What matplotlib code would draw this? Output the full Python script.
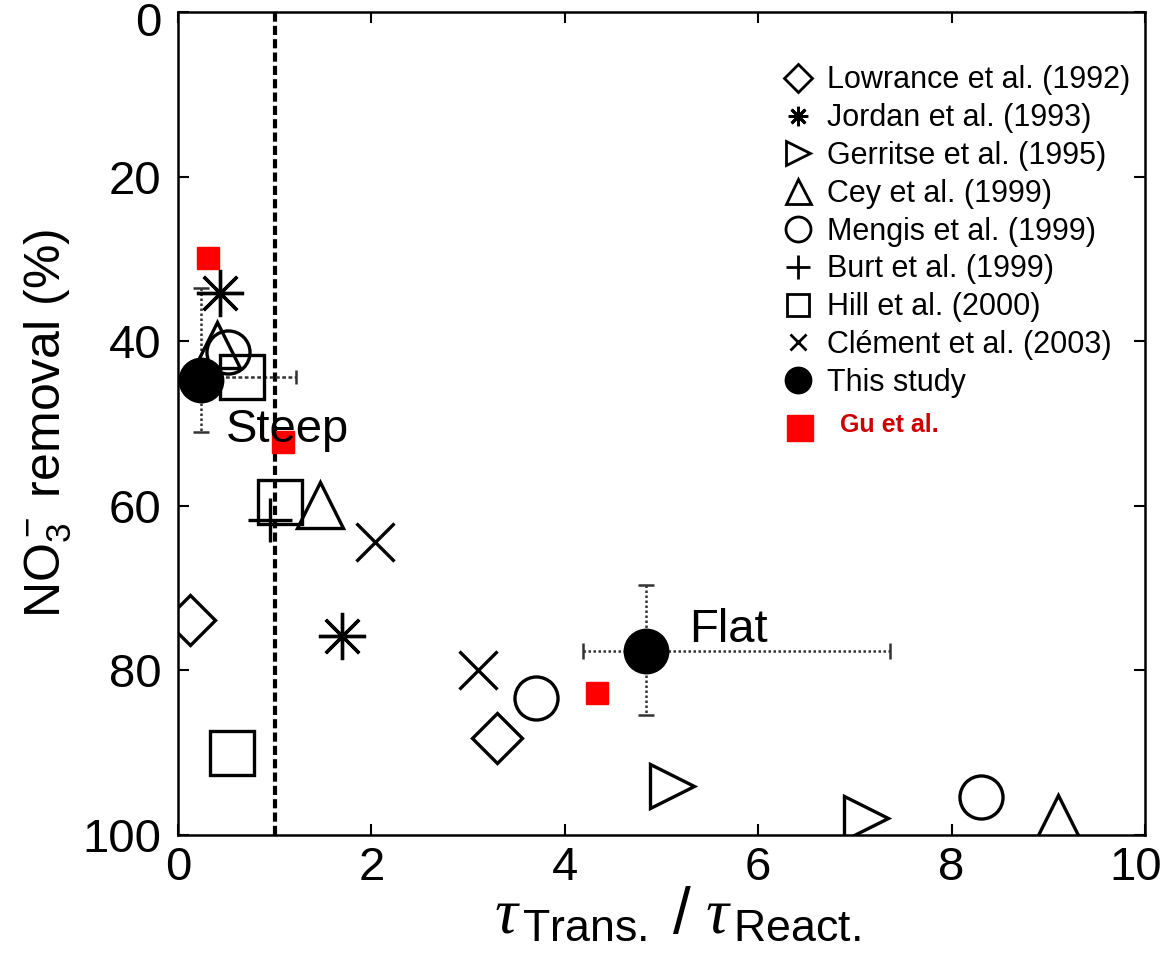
import matplotlib
matplotlib.use('Agg')
import matplotlib.pyplot as plt
from matplotlib.lines import Line2D
from matplotlib.transforms import ScaledTranslation

plt.rcParams['font.family'] = ['Liberation Sans', 'DejaVu Sans']
plt.rcParams['mathtext.fontset'] = 'custom'
plt.rcParams['mathtext.rm'] = 'Liberation Sans'
plt.rcParams['mathtext.it'] = 'Liberation Serif:italic'
plt.rcParams['mathtext.bf'] = 'Liberation Sans:bold'

# ---------------- data ----------------
lowrance_x = [0.12, 3.30]
lowrance_y = [73.9, 88.2]
jordan_x = [0.43, 1.70]
jordan_y = [34.1, 75.8]
gerritse_x = [5.11, 7.11]
gerritse_y = [94.0, 97.9]
cey_x = [0.40, 1.47, 9.10]
cey_y = [40.5, 59.9, 97.9]
mengis_x = [0.52, 3.70, 8.30]
mengis_y = [41.3, 83.4, 95.4]
burt_x = [0.95]
burt_y = [61.7]
hill_x = [0.66, 1.05, 0.56]
hill_y = [44.3, 59.5, 90.0]
hill_xerr_lo = [0.30]
hill_xerr_hi = [0.56]
clement_x = [2.04, 3.10]
clement_y = [64.4, 80.0]
study_x = [0.24, 4.84]
study_y = [44.7, 77.6]
study_xerr_lo = [0.19, 0.65]
study_xerr_hi = [0.20, 2.52]
study_yerr_lo = [11.2, 8.0]
study_yerr_hi = [6.3, 7.8]
gu_x = [0.31, 1.09, 4.33]
gu_y = [29.9, 52.2, 82.7]

legend_labels = ['Lowrance et al. (1992)', 'Jordan et al. (1993)', 'Gerritse et al. (1995)',
                 'Cey et al. (1999)', 'Mengis et al. (1999)', 'Burt et al. (1999)',
                 'Hill et al. (2000)', 'Clément et al. (2003)', 'This study']
gu_label = 'Gu et al.'
x_ticks = [0, 2, 4, 6, 8, 10]
y_ticks = [0, 20, 40, 60, 80, 100]

# ---------------- figure ----------------
fig = plt.figure(figsize=(11.65, 9.57), dpi=100)
ax = fig.add_axes([0.1528, 0.1275, 0.83, 0.86])

mew = 2.4
hollow = dict(mfc='none', mec='k', mew=mew, ls='none', color='k')

ax.axvline(1.0, color='k', lw=3, ls=(0, (2.2, 1.0)), zorder=1)

# error bars
eb = ax.errorbar([hill_x[0]], [hill_y[0]], xerr=[hill_xerr_lo, hill_xerr_hi], fmt='none',
                 ecolor='#333333', elinewidth=1.8, capsize=5, capthick=1.8, zorder=2)
for c in eb[2]:
    c.set_linestyle((0, (1.5, 1.0)))
eb = ax.errorbar(study_x, study_y, xerr=[study_xerr_lo, study_xerr_hi],
                 yerr=[study_yerr_lo, study_yerr_hi], fmt='none',
                 ecolor='#333333', elinewidth=1.8, capsize=6, capthick=1.8, zorder=2)
for c in eb[2]:
    c.set_linestyle((0, (1.0, 1.0)))

ax.plot(lowrance_x, lowrance_y, marker='D', ms=25, zorder=3, **hollow)
ax.plot(jordan_x, jordan_y, marker=(8, 2, 0), ms=34, zorder=3, **hollow)
ax.plot(gerritse_x, gerritse_y, marker='>', ms=31, zorder=3, **hollow)
ax.plot(cey_x, cey_y, marker='^', ms=33, zorder=3, **hollow)
ax.plot(mengis_x, mengis_y, marker='o', ms=31, zorder=3, **hollow)
ax.plot(burt_x, burt_y, marker='+', ms=31, zorder=3, **hollow)
ax.plot(hill_x, hill_y, marker='s', ms=31, zorder=3, **hollow)
ax.plot(clement_x, clement_y, marker='x', ms=27, zorder=3, **hollow)
ax.plot(study_x, study_y, marker='o', ms=32, mfc='k', mec='k', ls='none', zorder=4)
ax.plot(gu_x, gu_y, marker='s', ms=16, mfc='#ff0000', mec='#ff0000', ls='none', zorder=5)

ax.text(0.49, 50.8, 'Steep', fontsize=34, va='center', ha='left', zorder=6)
ax.text(5.29, 75.1, 'Flat', fontsize=34, va='center', ha='left', zorder=6)

# axes
ax.set_xlim(0, 10)
ax.set_ylim(100, 0)
ax.set_xticks(x_ticks)
ax.set_yticks(y_ticks)
ax.tick_params(direction='in', length=8, width=1.5, top=True, right=True, labelsize=34)
ax.tick_params(axis='y', pad=12)
ax.tick_params(axis='x', pad=8)
for s in ax.spines.values():
    s.set_linewidth(1.8)

ax.set_ylabel(r'NO$_3^-$ removal (%)', fontsize=36)
ax.yaxis.set_label_coords(-0.108, 0.5)
ax.set_xlabel(r'$\tau_{\,\mathrm{Trans.}}\ /\ \tau_{\,\mathrm{React.}}$', fontsize=46)
ax.xaxis.set_label_coords(0.516, -0.062)

# legend
hs = 2.0
handles = [
    Line2D([], [], marker='D', ms=14, mfc='none', mec='k', mew=hs, ls='none'),
    Line2D([], [], marker=(8, 2, 0), ms=14, mfc='none', mec='k', mew=hs, ls='none'),
    Line2D([], [], marker='>', ms=17, mfc='none', mec='k', mew=hs, ls='none'),
    Line2D([], [], marker='^', ms=18, mfc='none', mec='k', mew=hs, ls='none'),
    Line2D([], [], marker='o', ms=18, mfc='none', mec='k', mew=hs, ls='none'),
    Line2D([], [], marker='+', ms=17, mfc='none', mec='k', mew=hs, ls='none'),
    Line2D([], [], marker='s', ms=16, mfc='none', mec='k', mew=hs, ls='none'),
    Line2D([], [], marker='x', ms=12, mfc='none', mec='k', mew=hs, ls='none'),
    Line2D([], [], marker='o', ms=19, mfc='k', mec='k', ls='none'),
]
ax.legend(handles, legend_labels, loc='upper left', bbox_to_anchor=(0.6253, 0.935),
          frameon=False, fontsize=22, handlelength=1.0, handletextpad=0.45,
          labelspacing=0.255, borderpad=0, borderaxespad=0)

ax.plot([0.643], [0.495], marker='s', ms=19, mfc='#ff0000', mec='#ff0000',
        transform=ax.transAxes, clip_on=False, ls='none')
ax.text(0.685, 0.498, gu_label, transform=ax.transAxes, fontsize=18, fontweight='bold',
        color='#cc0000', va='center', ha='left')

fig.canvas.draw()
yt = ax.yaxis.get_major_ticks()[0].label1
yt.set_transform(yt.get_transform() + ScaledTranslation(0, -0.07, fig.dpi_scale_trans))
xt = ax.xaxis.get_major_ticks()[-1].label1
xt.set_transform(xt.get_transform() + ScaledTranslation(-0.09, 0, fig.dpi_scale_trans))

fig.savefig('out.png', dpi=100)
